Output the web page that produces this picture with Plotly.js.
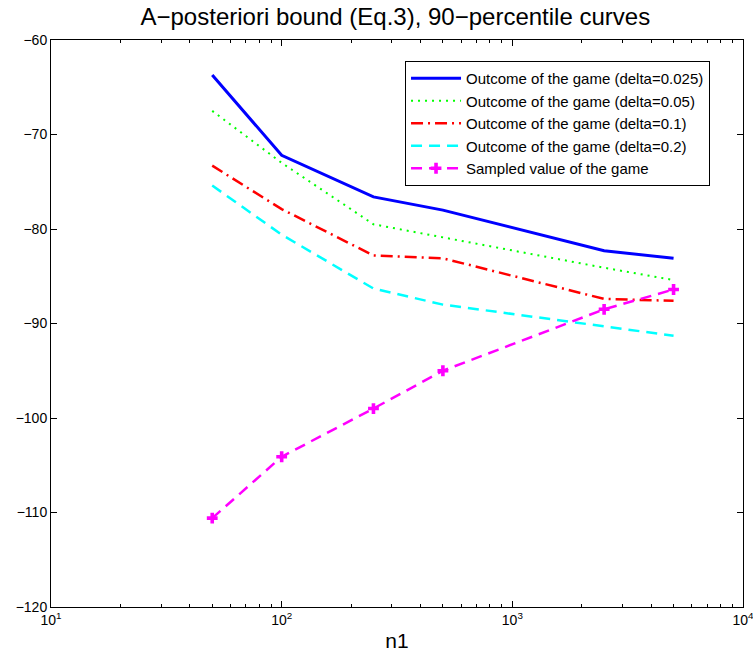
<!DOCTYPE html>
<html>
<head>
<meta charset="utf-8">
<script src="https://cdn.plot.ly/plotly-3.0.1.min.js"></script>
<style>html,body{margin:0;padding:0;background:#fff;}#chart{width:753px;height:660px;}</style>
</head>
<body>
<div id="chart"></div>
<script>
var n1 = [50, 100, 250, 500, 2500, 5000];
var delta0025 = [-63.7, -72.2, -76.6, -78.0, -82.3, -83.1];
var delta005 = [-67.5, -73.0, -79.5, -80.9, -84.1, -85.4];
var delta01 = [-73.3, -77.9, -82.8, -83.1, -87.4, -87.6];
var delta02 = [-75.4, -80.6, -86.3, -88.0, -90.3, -91.3];
var sampled = [-110.6, -104.1, -99.0, -95.0, -88.5, -86.4];
var seriesNames = [
  'Outcome of the game (delta=0.025)',
  'Outcome of the game (delta=0.05)',
  'Outcome of the game (delta=0.1)',
  'Outcome of the game (delta=0.2)',
  'Sampled value of the game'
];
var xTickVals = [10, 100, 1000, 10000];
var xTickText = ['10<sup>1</sup>', '10<sup>2</sup>', '10<sup>3</sup>', '10<sup>4</sup>'];
var xMinorVals = [20, 30, 40, 50, 60, 70, 80, 90, 200, 300, 400, 500, 600, 700, 800, 900, 2000, 3000, 4000, 5000, 6000, 7000, 8000, 9000];
var yTickVals = [-120, -110, -100, -90, -80, -70, -60];

var traces = [
  {x: n1, y: delta0025, name: seriesNames[0], mode: 'lines', line: {color: '#0000ff', width: 3, dash: 'solid'}},
  {x: n1, y: delta005, name: seriesNames[1], mode: 'lines', line: {color: '#00ff00', width: 2, dash: '2px,5px'}},
  {x: n1, y: delta01, name: seriesNames[2], mode: 'lines', line: {color: '#ff0000', width: 2.5, dash: '12px,5px,2px,5px'}},
  {x: n1, y: delta02, name: seriesNames[3], mode: 'lines', line: {color: '#00ffff', width: 2.5, dash: '11px,7px'}},
  {x: n1, y: sampled, name: seriesNames[4], mode: 'lines+markers', line: {color: '#ff00ff', width: 2.5, dash: '11px,7px'},
   marker: {symbol: 'cross', size: 9, color: '#ff00ff'}}
];

var FONT = 'Liberation Sans, Arial, sans-serif';
var axisCommon = {
  showline: true, linecolor: '#000', linewidth: 1, mirror: 'ticks',
  ticks: 'inside', ticklen: 6, tickcolor: '#000', showgrid: false, zeroline: false,
  tickfont: {family: FONT, size: 14, color: '#000'}, ticklabeloverflow: 'allow'
};

var layout = {
  width: 753, height: 660,
  margin: {l: 51, r: 10, t: 40, b: 53},
  paper_bgcolor: '#fff', plot_bgcolor: '#fff',
  font: {family: FONT, color: '#000'},
  title: {text: 'A\u2212posteriori bound (Eq.3), 90\u2212percentile curves', x: 0.525, xanchor: 'center', y: 0.975, yanchor: 'middle',
          font: {family: FONT, size: 24, color: '#000'}},
  xaxis: Object.assign({}, axisCommon, {
    type: 'log', range: [1, 4], tickvals: xTickVals, ticktext: xTickText,
    minor: {tickmode: 'array', tickvals: xMinorVals, ticks: 'inside', ticklen: 3, tickcolor: '#000', showgrid: false},
    title: {text: 'n1', font: {family: FONT, size: 21, color: '#000'}, standoff: 6}
  }),
  yaxis: Object.assign({}, axisCommon, {
    range: [-120, -60], tickvals: yTickVals
  }),
  showlegend: true,
  legend: {x: 0.5116, y: 0.963, xanchor: 'left', yanchor: 'top', bgcolor: '#fff', bordercolor: '#000', borderwidth: 1,
           font: {family: FONT, size: 15, color: '#000'}, tracegroupgap: 0, itemwidth: 50}
};

Plotly.newPlot('chart', traces, layout, {displayModeBar: false, staticPlot: true});
</script>
</body>
</html>
